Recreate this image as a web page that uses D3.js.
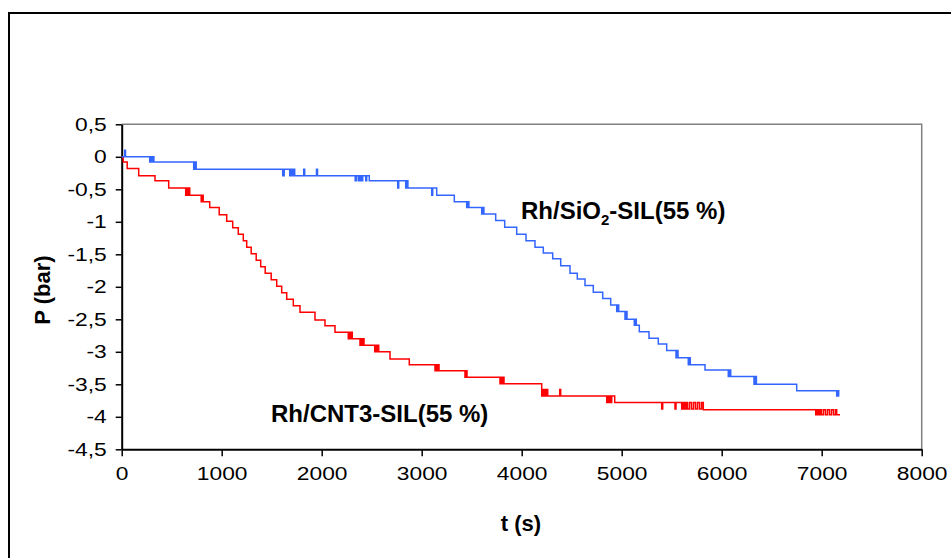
<!DOCTYPE html>
<html><head><meta charset="utf-8">
<script src="https://cdn.jsdelivr.net/npm/d3@7"></script>
<style>body{margin:0;background:#fff}svg{display:block}</style>
</head><body>
<svg id="c" width="951" height="558"></svg>
<script>
const xTicks = [0,1000,2000,3000,4000,5000,6000,7000,8000];
const yTicks = [0.5,0,-0.5,-1,-1.5,-2,-2.5,-3,-3.5,-4,-4.5];
const xTitle = "t (s)";
const yTitle = "P (bar)";
const seriesNames = ["Rh/SiO2-SIL(55 %)", "Rh/CNT3-SIL(55 %)"];

// Rh/SiO2-SIL (blue): [time (s), pressure (bar)] step points
const blueSteps = [[0,0],[30,0.1],[38,0],[280,-0.08],[292,0],[303,-0.08],[312,0],[322,-0.08],
  [720,-0.19],[732,-0.08],[745,-0.19],
  [1610,-0.29],[1625,-0.19],[1680,-0.29],[1692,-0.19],[1705,-0.29],[1718,-0.19],[1730,-0.29],[1820,-0.19],[1830,-0.29],[1948,-0.19],[1958,-0.29],
  [2335,-0.37],[2345,-0.29],[2365,-0.37],[2380,-0.29],[2395,-0.37],[2410,-0.29],[2440,-0.37],[2450,-0.29],[2476,-0.37],
  [2760,-0.48],[2770,-0.37],[2840,-0.48],[2852,-0.37],[2862,-0.48],
  [3100,-0.59],[3110,-0.48],[3150,-0.59],[3326,-0.69],[3450,-0.78],[3462,-0.69],[3472,-0.78],
  [3600,-0.88],[3612,-0.78],[3622,-0.88],[3740,-0.98],[3830,-1.085],[3950,-1.19],[4043,-1.29],[4133,-1.39],
  [4216,-1.48],[4310,-1.57],[4390,-1.675],[4483,-1.79],[4556,-1.88],[4633,-1.98],[4716,-2.085],[4810,-2.18],
  [4890,-2.28],[4950,-2.38],[4960,-2.28],[4970,-2.38],[5033,-2.5],[5043,-2.38],[5053,-2.5],
  [5126,-2.59],[5136,-2.5],[5146,-2.59],[5176,-2.69],[5273,-2.79],[5366,-2.88],[5450,-2.98],
  [5543,-3.09],[5553,-2.98],[5563,-3.09],[5666,-3.2],[5676,-3.09],[5686,-3.2],[5833,-3.28],
  [6066,-3.38],[6078,-3.28],[6090,-3.38],[6323,-3.5],[6335,-3.38],[6347,-3.5],[6750,-3.6],
  [7150,-3.68],[7160,-3.6],[7170,-3.68],[7175,-3.68]];

// Rh/CNT3-SIL (red): [time (s), pressure (bar)] step points
const redSteps = [[0,0],[15,-0.08],[55,-0.18],[170,-0.29],[333,-0.37],[470,-0.48],
  [640,-0.59],[650,-0.48],[660,-0.59],[670,-0.48],[680,-0.59],[795,-0.69],[805,-0.59],[815,-0.69],
  [880,-0.78],[975,-0.89],[1050,-0.99],[1110,-1.09],[1166,-1.19],[1216,-1.29],[1250,-1.39],[1295,-1.49],
  [1345,-1.59],[1390,-1.69],[1435,-1.79],[1495,-1.89],[1550,-1.99],[1600,-2.09],[1650,-2.19],[1716,-2.29],
  [1783,-2.39],[1933,-2.51],[2033,-2.6],[2133,-2.7],
  [2266,-2.8],[2276,-2.7],[2286,-2.8],[2296,-2.7],[2306,-2.8],
  [2383,-2.9],[2393,-2.8],[2403,-2.9],[2413,-2.8],[2423,-2.9],
  [2530,-3.0],[2540,-2.9],[2550,-3.0],[2560,-2.9],[2570,-3.0],
  [2683,-3.11],[2876,-3.2],
  [3133,-3.29],[3143,-3.2],[3153,-3.29],[3163,-3.2],[3173,-3.29],
  [3433,-3.39],[3443,-3.29],[3453,-3.39],
  [3783,-3.49],[3793,-3.39],[3803,-3.49],[3813,-3.39],[3823,-3.49],
  [4200,-3.68],[4210,-3.58],[4220,-3.68],[4230,-3.58],[4240,-3.68],[4250,-3.58],[4260,-3.68],[4380,-3.58],[4390,-3.68],
  [4850,-3.78],[4860,-3.68],[4870,-3.78],[4880,-3.68],[4890,-3.78],[4900,-3.68],[4930,-3.78],
  [5400,-3.88],[5410,-3.78],[5533,-3.88],[5543,-3.78],
  [5600,-3.88],[5615,-3.78],[5630,-3.88],[5645,-3.78],[5660,-3.88],[5680,-3.78],[5700,-3.88],[5720,-3.78],
  [5740,-3.88],[5760,-3.78],[5780,-3.88],[5800,-3.78],[5816,-3.89],
  [6940,-3.97],[6955,-3.89],[6970,-3.97],[6985,-3.89],[7000,-3.97],[7020,-3.89],[7040,-3.97],[7060,-3.89],
  [7080,-3.97],[7100,-3.89],[7120,-3.97],[7140,-3.89],[7150,-3.97],[7183,-3.97]];

const svg = d3.select('#c');
const FONT = "'Liberation Sans', Arial, sans-serif";
const SX = 1.2; // horizontal stretch of tick labels in the reference
const x = d3.scaleLinear().domain([0, 8000]).range([121.7, 921.7]);
const y = d3.scaleLinear().domain([-4.5, 0.5]).range([449.3, 124.3]);

// outer frame
svg.append('rect').attr('x', 9).attr('y', 13).attr('width', 980).attr('height', 600)
  .attr('fill', 'none').attr('stroke', '#000').attr('stroke-width', 2);

// plot border top/right
svg.append('path')
  .attr('d', `M${x(0)},${y(0.5)}H${x(8000)}V${y(-4.5)}`)
  .attr('fill', 'none').attr('stroke', '#808080').attr('stroke-width', 1.5);

const fmt = d => String(d).replace('.', ',');

const yAxis = svg.append('g').attr('transform', `translate(${x(0)},0)`)
  .call(d3.axisLeft(y).tickValues(yTicks).tickFormat(fmt).tickSize(6).tickPadding(9).tickSizeOuter(0));
const xAxis = svg.append('g').attr('transform', `translate(0,${y(-4.5)})`)
  .call(d3.axisBottom(x).tickValues(xTicks).tickFormat(d => String(d)).tickSize(7).tickPadding(10).tickSizeOuter(0));
[yAxis, xAxis].forEach(g => {
  g.select('.domain').attr('stroke', '#000').attr('stroke-width', 2);
  g.selectAll('.tick line').attr('stroke', '#000').attr('stroke-width', 1.5);
  g.selectAll('.tick text').attr('fill', '#000').style('font-family', FONT).style('font-size', '19px');
});
yAxis.selectAll('.tick text').attr('x', -15 / SX).attr('transform', `scale(${SX},1)`);
xAxis.selectAll('.tick text').attr('transform', `scale(${SX},1)`);

const line = d3.line().curve(d3.curveStepAfter).x(d => x(d[0])).y(d => y(d[1]));
svg.append('path').datum(redSteps).attr('d', line).attr('fill', 'none').attr('stroke', '#FF0000').attr('stroke-width', 1.5);
svg.append('path').datum(blueSteps).attr('d', line).attr('fill', 'none').attr('stroke', '#3366FF').attr('stroke-width', 1.5);

// axis titles
svg.append('text').attr('x', 521).attr('y', 531).attr('text-anchor', 'middle')
  .style('font-family', FONT).style('font-size', '22px').style('font-weight', 'bold').text(xTitle);
svg.append('text').attr('transform', 'translate(50,290) rotate(-90)').attr('text-anchor', 'middle')
  .style('font-family', FONT).style('font-size', '22px').style('font-weight', 'bold').text(yTitle);

// series labels
const l1 = svg.append('text').attr('x', 521).attr('y', 219)
  .style('font-family', FONT).style('font-size', '24px').style('font-weight', 'bold');
l1.append('tspan').text('Rh/SiO');
l1.append('tspan').attr('dy', 6).style('font-size', '15px').text('2');
l1.append('tspan').attr('dy', -6).text('-SIL(55 %)');
svg.append('text').attr('x', 271).attr('y', 422)
  .style('font-family', FONT).style('font-size', '24px').style('font-weight', 'bold').text(seriesNames[1]);
</script>
</body></html>
